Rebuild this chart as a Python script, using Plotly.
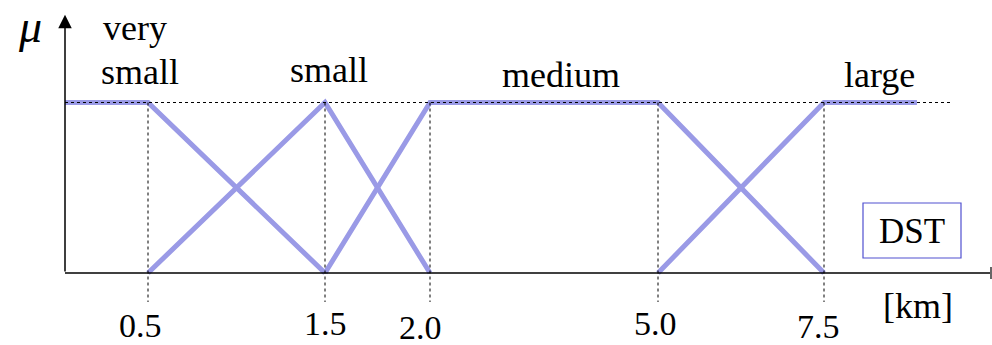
import numpy as np
import plotly.graph_objects as go

# Fuzzy sets for the distance variable DST (km) and their membership values
set_names = ["very small", "small", "medium", "large"]
very_small_km = [0.0, 0.5, 1.5]
very_small_mu = [1, 1, 0]
small_km = [0.5, 1.5, 2.0]
small_mu = [0, 1, 0]
medium_km = [1.5, 2.0, 5.0, 7.5]
medium_mu = [0, 1, 1, 0]
large_km = [5.0, 7.5, 8.9]
large_mu = [0, 1, 1]

# Breakpoints marked on the km axis
km_ticks = [0.5, 1.5, 2.0, 5.0, 7.5]
tick_labels = ["0.5", "1.5", "2.0", "5.0", "7.5"]

# Schematic (non-uniform) spacing of the km axis
axis_km = [0.0, 0.5, 1.5, 2.0, 5.0, 7.5, 10.0]
axis_pos = [0, 83, 260, 365, 593, 759, 925]


def warp(km):
    return np.interp(np.asarray(km, dtype=float), axis_km, axis_pos)


W, H = 992, 345
FONT = "Liberation Serif, Times New Roman, serif"
LINE_COLOR = "#9a9ae6"


def py(pixel_y):
    # vertical position in paper units from a pixel row
    return 1 - pixel_y / H


def text_note(x, y, text, size, xref="paper", xshift=0):
    return dict(x=x, y=y, xref=xref, yref="paper", xshift=xshift,
                xanchor="center", yanchor="middle",
                text=text, showarrow=False,
                font=dict(family=FONT, size=size, color="black"))


fig = go.Figure()

for km, mu in [(very_small_km, very_small_mu), (small_km, small_mu),
               (medium_km, medium_mu), (large_km, large_mu)]:
    fig.add_trace(go.Scatter(
        x=warp(km), y=mu, mode="lines",
        line=dict(color=LINE_COLOR, width=5),
        hoverinfo="skip", showlegend=False, cliponaxis=False,
    ))

shapes = []
# horizontal dotted reference at mu = 1
shapes.append(dict(type="line", xref="x", yref="y",
                   x0=warp(0.0), x1=warp(9.4), y0=1, y1=1,
                   line=dict(color="black", width=1, dash="dot")))
# vertical dotted drop lines at the breakpoints
for k in km_ticks:
    shapes.append(dict(type="line", xref="x", yref="y",
                       x0=warp(k), x1=warp(k), y0=1, y1=-0.17,
                       line=dict(color="black", width=1, dash="dot")))
# horizontal km axis with end stop
shapes.append(dict(type="line", xref="x", yref="y",
                   x0=0, x1=warp(10.0), y0=0, y1=0,
                   line=dict(color="black", width=1.5)))
shapes.append(dict(type="line", xref="x", yref="y",
                   x0=warp(10.0) + 1, x1=warp(10.0) + 1, y0=-0.035, y1=0.035,
                   line=dict(color="black", width=1.2)))
# DST box
shapes.append(dict(type="rect", xref="paper", yref="paper",
                   x0=863 / W, x1=961 / W, y0=py(258), y1=py(203),
                   line=dict(color="#5050d0", width=1.2)))

annotations = []
# mu axis arrow
annotations.append(dict(x=0, y=1.515, xref="x", yref="y",
                        ax=0, ay=0, axref="x", ayref="y",
                        showarrow=True, arrowhead=2, arrowsize=1.8,
                        arrowwidth=1.5, arrowcolor="black", text=""))
annotations.append(text_note(30 / W, py(27), "<i>μ</i>", 46))

# set labels (the first one is split over two lines)
label_km = [0.42, 0.45, 1.52, 3.72, 8.34]
label_y = [28, 72, 70, 75, 75]
label_text = ["very", "small", "small", "medium", "large"]
for k, yy, t in zip(label_km, label_y, label_text):
    annotations.append(text_note(float(warp(k)), py(yy), t, 36, xref="x"))

# km tick labels
tick_dx = [-8, 0, -10, -3, -6]
tick_py = [325, 323, 327, 323, 326]
for k, lab, dx, yy in zip(km_ticks, tick_labels, tick_dx, tick_py):
    annotations.append(text_note(float(warp(k)), py(yy), lab, 34,
                                 xref="x", xshift=dx))

annotations.append(text_note(918 / W, py(306), "[km]", 36))
annotations.append(text_note(912 / W, py(231), "DST", 35))

# mu = 0 at row 273, mu = 1 at row 102.5
mu0_px, mu1_px = 273.0, 102.5
span = H / (mu0_px - mu1_px)
y_lo = -(H - mu0_px) / (mu0_px - mu1_px)
fig.update_layout(
    width=W, height=H,
    margin=dict(l=0, r=0, t=0, b=0),
    paper_bgcolor="white", plot_bgcolor="white",
    xaxis=dict(range=[-65, W - 65], visible=False, fixedrange=True),
    yaxis=dict(range=[y_lo, y_lo + span], visible=False, fixedrange=True),
    shapes=shapes, annotations=annotations,
    showlegend=False,
)

fig.write_html("out.html")
